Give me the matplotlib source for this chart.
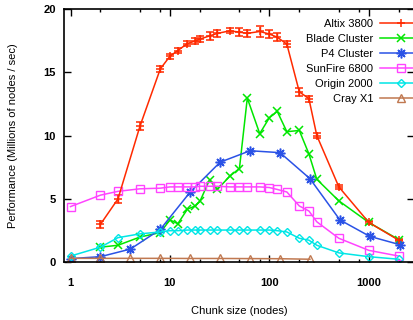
import matplotlib
matplotlib.use("Agg")
import matplotlib.pyplot as plt
from matplotlib.lines import Line2D
from matplotlib.ticker import FixedLocator, NullFormatter
import numpy as np

plt.rcParams['font.family'] = ['Liberation Sans', 'DejaVu Sans']

### Data ###

chunks = [1, 2, 3, 5, 8, 10, 12, 15, 18, 20, 25, 30, 40, 50, 60, 80,
          100, 120, 150, 200, 250, 300, 500, 1000, 2000]
pow2 = [1, 2, 4, 8, 16, 32, 64, 128, 256, 512, 1024, 2048]

altix_x = chunks[1:]
altix = [3.0, 5.0, 10.75, 15.25, 16.25, 16.7, 17.25, 17.45, 17.6, 17.85, 18.05,
         18.25, 18.15, 18.05, 18.2, 18.0, 17.75, 17.2, 13.45, 12.9, 10.0,
         5.95, 3.15, 1.75]
altix_err = [0.3, 0.3, 0.3, 0.25, 0.2, 0.2, 0.2, 0.2, 0.25, 0.3, 0.25,
             0.2, 0.3, 0.3, 0.4, 0.3, 0.3, 0.25, 0.3, 0.25, 0.2,
             0.15, 0.1, 0.1]

blade_x = chunks[1:]
blade = [1.2, 1.35, 2.0, 2.35, 3.35, 3.05, 4.2, 4.45, 4.8, 6.5, 5.75,
         6.8, 7.4, 12.95, 10.15, 11.4, 11.9, 10.3, 10.4, 8.55, 6.55,
         4.85, 3.15, 1.8]

p4 = [0.3, 0.45, 1.05, 2.6, 5.55, 7.9, 8.8, 8.65, 6.6, 3.35, 2.05, 1.4]

sunfire = [4.4, 5.3, 5.6, 5.8, 5.85, 5.95, 5.95, 5.95, 5.95, 6.0, 6.0, 6.0,
           5.95, 5.95, 5.95, 5.95, 5.9, 5.75, 5.55, 4.45, 4.05, 3.2,
           1.9, 0.95, 0.5]

origin = [0.5, 1.2, 1.95, 2.25, 2.4, 2.5, 2.5, 2.55, 2.55, 2.55, 2.55, 2.55,
          2.55, 2.55, 2.55, 2.55, 2.55, 2.5, 2.4, 1.9, 1.75, 1.35,
          0.75, 0.45, 0.25]

cray_x = pow2[:9]
cray = [0.32, 0.32, 0.32, 0.32, 0.31, 0.31, 0.3, 0.29, 0.25]

labels = ["Altix 3800", "Blade Cluster", "P4 Cluster", "SunFire 6800",
          "Origin 2000", "Cray X1"]

### Styles ###
c_red = '#ff2a00'
c_green = '#00e600'
c_blue = '#2a52e6'
c_mag = '#ff44ff'
c_cyan = '#00e6e6'
c_brown = '#c07850'

fig = plt.figure(figsize=(4.14, 3.2), dpi=100)
ax = fig.add_axes([0.1546, 0.180, 0.8454, 0.793])

lw = 1.1
ax.errorbar(altix_x, altix, yerr=altix_err, color=c_red, lw=lw, marker='+',
            ms=6, mew=1.1, capsize=3, elinewidth=1.0, capthick=1.0)
ax.plot(blade_x, blade, color=c_green, lw=lw, marker='x', ms=6, mew=1.1)
ax.plot(pow2, p4, color=c_blue, lw=lw, marker=(8, 2, 0), ms=7, mew=1.1)
ax.plot(chunks, sunfire, color=c_mag, lw=lw, marker='s', ms=6, mew=1.0,
        mfc='none')
ax.plot(chunks, origin, color=c_cyan, lw=lw, marker='D', ms=4, mew=1.0,
        mfc='none')
ax.plot(cray_x, cray, color=c_brown, lw=lw, marker='^', ms=6, mew=1.0,
        mfc='none')

ax.set_xscale('log')
ax.set_xlim(0.86, 2850)
ax.set_ylim(0, 20)

ax.xaxis.set_major_locator(FixedLocator([1, 10, 100, 1000]))
ax.set_xticklabels(['1', '10', '100', '1000'])
minors = [m * 10 ** d for d in range(0, 4) for m in (2, 5, 8)]
ax.xaxis.set_minor_locator(FixedLocator(minors))
ax.xaxis.set_minor_formatter(NullFormatter())
ax.set_yticks([0, 5, 10, 15, 20])

ax.tick_params(which='both', direction='in', top=True, right=True,
               width=1.0, labelsize=8)
ax.tick_params(which='major', length=5)
ax.tick_params(which='minor', length=2.5)
ax.tick_params(axis='x', pad=11)
ax.tick_params(axis='y', pad=6)
for t in ax.get_xticklabels() + ax.get_yticklabels():
    t.set_fontweight('bold')

for s in ax.spines.values():
    s.set_linewidth(1.2)

ax.set_xlabel("Chunk size (nodes)", fontsize=8, labelpad=13)
ax.set_ylabel("Performance (Millions of nodes / sec)", fontsize=8, labelpad=18)

handles = [
    Line2D([], [], color=c_red, lw=lw, marker='+', ms=6, mew=1.1),
    Line2D([], [], color=c_green, lw=lw, marker='x', ms=6, mew=1.1),
    Line2D([], [], color=c_blue, lw=lw, marker=(8, 2, 0), ms=7, mew=1.1),
    Line2D([], [], color=c_mag, lw=lw, marker='s', ms=6, mew=1.0, mfc='none'),
    Line2D([], [], color=c_cyan, lw=lw, marker='D', ms=4, mew=1.0, mfc='none'),
    Line2D([], [], color=c_brown, lw=lw, marker='^', ms=6, mew=1.0, mfc='none'),
]
ax.legend(handles, labels, loc='upper right', frameon=False, markerfirst=False,
          fontsize=8, handlelength=3.8, labelspacing=0.45,
          borderaxespad=0.3, handletextpad=0.6,
          bbox_to_anchor=(1.045, 0.99))

fig.savefig("out.png", dpi=100)
